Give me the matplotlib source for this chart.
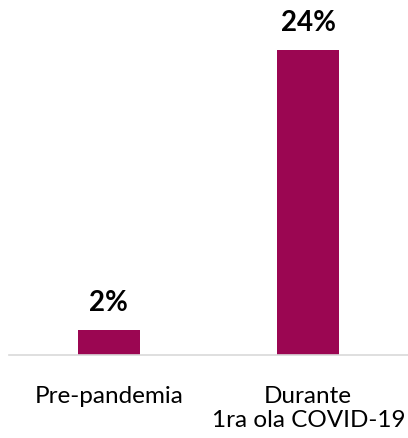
import matplotlib.pyplot as plt

categories = ['Pre-pandemia', 'Durante\n1ra ola COVID-19']
values = [2, 24]
value_labels = ['2%', '24%']

plt.rcParams['font.family'] = ['Lato', 'DejaVu Sans']

fig = plt.figure(figsize=(4.08, 4.39), dpi=100)
ax = fig.add_axes([9 / 408, (439 - 356) / 439, 399 / 408, 356 / 439])

x = range(len(categories))
ax.bar(x, values, width=0.31, color='#9B0652')

for xi, v, lab in zip(x, values, value_labels):
    ax.annotate(lab, (xi, v), xytext=(0, 14.4), textcoords='offset points',
                ha='center', va='baseline', fontsize=20, fontweight='bold',
                color='black')

ax.set_xlim(-0.5, 1.5)
ax.set_ylim(0, 28)
ax.set_xticks(list(x))
ax.set_xticklabels(categories, fontsize=17.5, linespacing=1.2)
ax.tick_params(axis='x', length=0, pad=21.5)
ax.set_yticks([])

for side in ['top', 'left', 'right']:
    ax.spines[side].set_visible(False)
ax.spines['bottom'].set_color('#D9D9D9')
ax.spines['bottom'].set_linewidth(1.2)

fig.savefig('out.png', dpi=100)
